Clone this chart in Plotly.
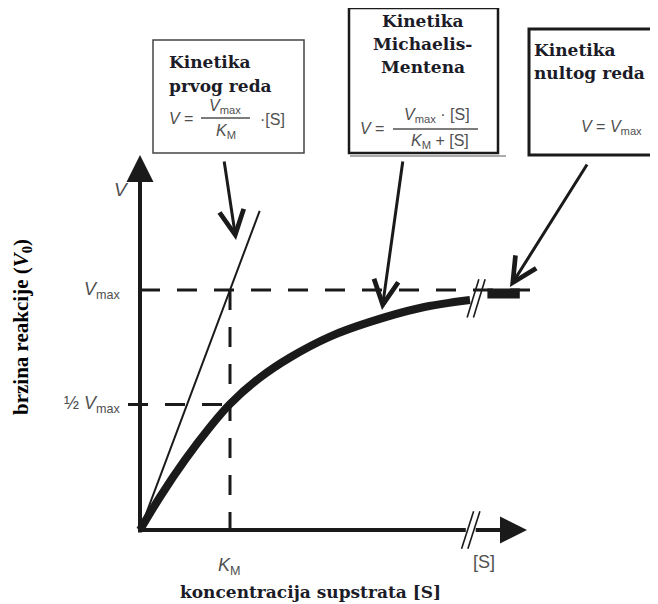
import plotly.graph_objects as go

# values (S in units of K_M, V in units of V_max)
KM = 1.0
VMAX = 1.0
HALF_VMAX = 0.523

s_mm = [0, 0.222, 0.5, 0.778, 1.0, 1.333, 1.667, 2.111, 2.556, 3.111, 3.667]
v_mm = [0, 0.1375, 0.292, 0.429, 0.525, 0.635, 0.719, 0.806, 0.867, 0.925, 0.958]

s_first = [0, 1.33]
v_first = [0, 1.33]

s_zero = [3.86, 4.22]
v_zero = [0.985, 0.985]

S_END = 4.3      # tip of the [S] axis
V_END = 1.5625   # tip of the V axis
S_BREAK = [3.64, 3.71]
CURVE_BREAK = [3.70, 3.77]

tick_vmax = '<i>V</i><sub>max</sub>'
tick_half = '½ <i>V</i><sub>max</sub>'
tick_km = '<i>K</i><sub>M</sub>'

# page body has an 8px margin, so the figure is drawn 8px in from the corner
OFF = 8
W, H = 650, 596
X0, X1 = (OFF - 140) / 90, (OFF + W - 140) / 90
Y0, Y1 = (530 - OFF - H) / 240, (530 - OFF) / 240


def px(x):
    return (x - OFF) / W


def py(y):
    return 1 - (y - OFF) / H


INK = '#1a1a1a'
GREY = '#505050'
TITLE = dict(family='DejaVu Serif', size=17, color='#1c1c28')
FORM = dict(family='Liberation Sans', size=16, color=GREY)
DASH = '20px,17px'

fig = go.Figure()


def line(x, y, width, color=INK, dash=None, shape='linear'):
    fig.add_trace(go.Scatter(x=x, y=y, mode='lines', hoverinfo='skip',
                             line=dict(color=color, width=width, dash=dash, shape=shape)))


# dashed guides
line([0, 4.42], [VMAX, VMAX], 3, dash=DASH)
line([-0.133, KM], [HALF_VMAX, HALF_VMAX], 3, dash=DASH)
line([KM, KM], [VMAX, -0.04], 3, dash=DASH)

# axes
line([-0.02, S_END - 0.2], [0, 0], 4)
line([0, 0], [-0.01, V_END - 0.1], 4)
fig.add_trace(go.Scatter(x=[S_END], y=[0], mode='markers', hoverinfo='skip',
                         marker=dict(symbol='arrow-right', size=27, color=INK)))
fig.add_trace(go.Scatter(x=[0], y=[V_END], mode='markers', hoverinfo='skip',
                         marker=dict(symbol='arrow-up', size=27, color=INK)))

# curves
line(s_first, v_first, 2)
line(s_mm, v_mm, 8, shape='spline')
line(s_zero, v_zero, 10)

# breaks
line([S_BREAK[0] - 0.02, S_BREAK[1] + 0.02], [0, 0], 8, color='white')
line([CURVE_BREAK[0], CURVE_BREAK[1]], [0.965, 0.965], 12, color='white')
bx, by = [], []
for s in S_BREAK:
    bx += [s - 0.067, s + 0.067, None]
    by += [-0.078, 0.078, None]
for s in CURVE_BREAK:
    bx += [s - 0.065, s + 0.065, None]
    by += [0.965 - 0.08, 0.965 + 0.08, None]
line(bx, by, 1.6)

ann = []


def text(x, y, t, font, xanchor='center', ref='paper', **kw):
    ann.append(dict(x=x, y=y, xref=ref, yref=ref, text=t, showarrow=False,
                    xanchor=xanchor, yanchor='middle', font=font, **kw))


# callout arrows (tail -> tip, in data units)
arrows = [((0.933, 1.542), (1.067, 1.208)),
          ((2.922, 1.542), (2.689, 0.917)),
          ((4.978, 1.529), (4.111, 1.0125))]
for (ax, ay), (x, y) in arrows:
    ann.append(dict(x=x, y=y, ax=ax, ay=ay, xref='x', yref='y', axref='x', ayref='y',
                    text='', showarrow=True, arrowhead=5, arrowsize=1.6,
                    arrowwidth=3, arrowcolor=INK, standoff=0))

# boxes
shapes = [
    dict(type='rect', xref='paper', yref='paper', x0=px(153), x1=px(304), y0=py(153), y1=py(40),
         line=dict(color='#444', width=1.5), fillcolor='white', layer='below'),
    dict(type='line', xref='paper', yref='paper', x0=px(350), x1=px(506), y0=py(156), y1=py(156),
         line=dict(color='#aaa', width=2)),
    dict(type='rect', xref='paper', yref='paper', x0=px(349), x1=px(498), y0=py(153), y1=py(8),
         line=dict(color=INK, width=2.5), fillcolor='white', layer='below'),
    dict(type='rect', xref='paper', yref='paper', x0=px(529), x1=px(700), y0=py(155), y1=py(29),
         line=dict(color=INK, width=3), fillcolor='white', layer='below'),
    # fraction bars
    dict(type='line', xref='paper', yref='paper', x0=px(201), x1=px(250), y0=py(118), y1=py(118),
         line=dict(color=GREY, width=1.3)),
    dict(type='line', xref='paper', yref='paper', x0=px(393), x1=px(478), y0=py(129), y1=py(129),
         line=dict(color=GREY, width=1.3)),
]

# box 1
text(px(167), py(62), '<b>Kinetika</b>', TITLE, xanchor='left')
text(px(167), py(86), '<b>prvog reda</b>', TITLE, xanchor='left')
text(px(181), py(118), '<i>V</i> =', FORM)
text(px(225), py(106), tick_vmax, FORM)
text(px(226), py(131), tick_km, FORM)
text(px(272), py(119), '·[S]', FORM)

# box 2
text(px(423), py(21), '<b>Kinetika</b>', TITLE)
text(px(423), py(44), '<b>Michaelis-</b>', TITLE)
text(px(423), py(67), '<b>Mentena</b>', TITLE)
text(px(372), py(129), '<i>V</i> =', FORM)
text(px(437), py(116), tick_vmax + ' · [S]', FORM)
text(px(440), py(141), tick_km + ' + [S]', FORM)

# box 3
text(px(532), py(50), '<b>Kinetika</b>', TITLE, xanchor='left')
text(px(532), py(73), '<b>nultog reda</b>', TITLE, xanchor='left')
text(px(611), py(128), '<i>V</i> = ' + tick_vmax, FORM)

# axis labels
AX = dict(family='Liberation Sans', size=18, color=GREY)
text(px(121), py(190), '<i>V</i>', dict(family='Liberation Sans', size=19, color=GREY))
text(px(123), py(290), tick_vmax, AX, xanchor='right')
text(px(123), py(404), tick_half, AX, xanchor='right')
text(px(230), py(566), tick_km, AX)
text(px(484), py(562), '[S]', AX)
text(px(310), py(592), '<b>koncentracija supstrata [S]</b>',
     dict(family='DejaVu Serif', size=17, color='#1c1c28'))
text(px(22), py(327), '<b>brzina reakcije (<i>V</i><sub>0</sub>)</b>',
     dict(family='Liberation Serif', size=21, color='black'), textangle=-90)

fig.update_layout(
    width=W, height=H,
    margin=dict(l=0, r=0, t=0, b=0),
    plot_bgcolor='white', paper_bgcolor='white',
    showlegend=False,
    xaxis=dict(range=[X0, X1], visible=False, fixedrange=True),
    yaxis=dict(range=[Y0, Y1], visible=False, fixedrange=True),
    annotations=ann,
    shapes=shapes,
)

fig.write_html("out.html")
